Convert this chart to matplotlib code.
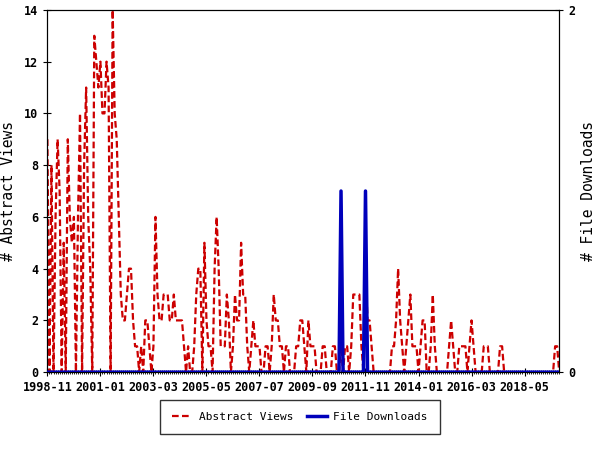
import pandas as pd
import matplotlib
matplotlib.use("Agg")
from matplotlib import pyplot as plt
from matplotlib.ticker import MultipleLocator, FixedLocator

# monthly counts, 1998-11 .. 2019-10
abstract_views = [
    9, 0, 8, 0, 6, 9, 7, 0, 5, 0, 9, 6, 5, 6, 0, 6, 10, 0, 8, 11,
    6, 4, 0, 13, 12, 11, 12, 10, 10, 12, 11, 0, 14, 10, 9, 6, 3, 2, 2, 3,
    4, 4, 2, 1, 1, 0, 1, 0, 2, 2, 1, 0, 1, 6, 3, 2, 2, 3, 3, 3,
    2, 2, 3, 2, 2, 2, 2, 1, 0, 1, 0, 0, 1, 3, 4, 4, 0, 5, 2, 1,
    1, 0, 4, 6, 4, 1, 1, 1, 3, 2, 0, 1, 3, 2, 2, 5, 3, 3, 1, 0,
    1, 2, 1, 1, 1, 0, 0, 1, 1, 0, 1, 3, 2, 2, 1, 1, 0, 1, 1, 0,
    0, 0, 1, 1, 2, 2, 1, 0, 2, 1, 1, 1, 0, 0, 0, 1, 1, 0, 0, 0,
    1, 1, 0, 0, 1, 0, 1, 1, 0, 1, 3, 3, 3, 3, 1, 0, 4, 2, 2, 1,
    0, 0, 0, 0, 0, 0, 0, 0, 0, 1, 1, 2, 4, 2, 1, 0, 1, 2, 3, 1,
    1, 1, 0, 1, 2, 2, 0, 0, 1, 3, 1, 0, 0, 0, 0, 0, 0, 1, 2, 1,
    0, 0, 1, 1, 1, 1, 0, 1, 2, 1, 0, 0, 0, 0, 1, 1, 1, 0, 0, 0,
    0, 0, 1, 1, 0, 0, 0, 0, 0, 0, 0, 0, 0, 0, 0, 0, 0, 0, 0, 0,
    0, 0, 0, 0, 0, 0, 0, 0, 0, 1, 1, 0,
]
file_downloads = [0] * 252
file_downloads[144] = 1
file_downloads[156] = 1

months = pd.date_range("1998-11-01", periods=len(abstract_views), freq="MS")
x = list(range(len(months)))
tick_pos = list(range(0, len(months), 26))
tick_labels = [months[i].strftime("%Y-%m") for i in tick_pos]

font = "DejaVu Sans Mono"
red = "#cc0000"
blue = "#0000bb"

fig = plt.figure(figsize=(6, 4.5), dpi=100)
ax = fig.add_axes([0.079, 0.173, 0.853, 0.805])
ax2 = ax.twinx()

l1, = ax.plot(x, abstract_views, c=red, lw=1.6, ls=(0, (3, 1.5)), zorder=2)
l2, = ax2.plot(x, file_downloads, c=blue, lw=2.5, zorder=3)
ax.set_zorder(ax2.get_zorder() - 1)
ax.patch.set_visible(False)
ax2.patch.set_visible(False)

ax.set_xlim(0, len(months) - 1)
ax.set_ylim(0, 14)
ax2.set_ylim(0, 2)
ax.yaxis.set_major_locator(MultipleLocator(2))
ax2.yaxis.set_major_locator(FixedLocator([0, 2]))
ax.xaxis.set_major_locator(FixedLocator(tick_pos))
ax.xaxis.set_minor_locator(MultipleLocator(1))
ax.set_xticklabels(tick_labels)

ax.tick_params(axis="x", which="major", direction="inout", length=6, labelsize=8.5)
ax.tick_params(axis="x", which="minor", direction="inout", length=3)
ax.tick_params(axis="y", direction="inout", length=6, labelsize=8.5)
ax2.tick_params(axis="y", direction="inout", length=6, labelsize=8.5)
for lab in ax.get_xticklabels() + ax.get_yticklabels() + ax2.get_yticklabels():
    lab.set_fontfamily(font)
    lab.set_fontweight("bold")

ax.set_ylabel("# Abstract Views", fontsize=10.5, family=font, labelpad=6)
ax2.set_ylabel("# File Downloads", fontsize=10.5, family=font, labelpad=4)

leg = fig.legend([l1, l2], ["Abstract Views", "File Downloads"], loc="center",
                 bbox_to_anchor=(0.5, 0.073), ncol=2, fancybox=False,
                 edgecolor="black", handlelength=1.8, handletextpad=0.6,
                 borderpad=1.1, borderaxespad=0, columnspacing=1.2,
                 prop={"family": font, "size": 8})
leg.get_frame().set_linewidth(1.0)

fig.savefig("out.png", dpi=100)
